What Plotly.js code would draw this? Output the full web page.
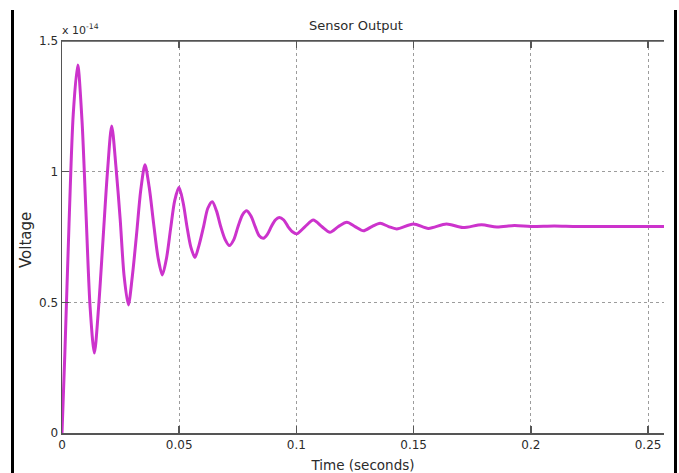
<!DOCTYPE html>
<html>
<head>
<meta charset="utf-8">
<script src="https://cdn.plot.ly/plotly-3.0.1.min.js"></script>
<style>
html,body{margin:0;padding:0;background:#fff;}
#chart{width:679px;height:473px;}
</style>
</head>
<body>
<div id="chart"></div>
<script>
// Time (seconds) and sensor voltage (x 1e-14)
const timeSec = [0, 0.0012, 0.0030, 0.0048, 0.0067, 0.0085, 0.0102, 0.0120, 0.0138, 0.0156,
  0.0175, 0.0194, 0.0212, 0.0230, 0.0248, 0.0265, 0.0283, 0.0300, 0.0318, 0.0336,
  0.0354, 0.0372, 0.0391, 0.0410, 0.0428, 0.0446, 0.0463, 0.0481, 0.0499, 0.0517,
  0.0533, 0.0550, 0.0567, 0.0585, 0.0604, 0.0622, 0.0641, 0.0659, 0.0677, 0.0696,
  0.0714, 0.0733, 0.0751, 0.0770, 0.0788, 0.0806, 0.0824, 0.0841, 0.0859, 0.0876,
  0.0893, 0.0910, 0.0927, 0.0946, 0.0964, 0.0983, 0.1001, 0.1037, 0.1072, 0.1108,
  0.1143, 0.1179, 0.1215, 0.1250, 0.1286, 0.1322, 0.1357, 0.1393, 0.1428, 0.1499,
  0.1563, 0.1640, 0.1710, 0.1790, 0.1855, 0.1930, 0.2000, 0.2100, 0.2200, 0.2568];
const voltage = [0, 0.30, 0.80, 1.22, 1.408, 1.20, 0.85, 0.48, 0.306, 0.48,
  0.74, 1.00, 1.175, 1.02, 0.82, 0.60, 0.49, 0.60, 0.76, 0.93,
  1.026, 0.94, 0.80, 0.67, 0.605, 0.67, 0.78, 0.89, 0.94, 0.88,
  0.79, 0.71, 0.672, 0.72, 0.79, 0.86, 0.885, 0.85, 0.79, 0.74,
  0.717, 0.74, 0.79, 0.835, 0.85, 0.83, 0.79, 0.755, 0.745, 0.76,
  0.79, 0.815, 0.825, 0.815, 0.79, 0.77, 0.762, 0.79, 0.815, 0.79,
  0.768, 0.79, 0.806, 0.79, 0.774, 0.79, 0.8025, 0.79, 0.781, 0.80,
  0.783, 0.80, 0.786, 0.797, 0.788, 0.794, 0.79, 0.792, 0.79, 0.79];

const xTickVals = [0, 0.05, 0.1, 0.15, 0.2, 0.25];
const xTickText = ['0', '0.05', '0.1', '0.15', '0.2', '0.25'];
const yTickVals = [0, 0.5, 1, 1.5];
const yTickText = ['0', '0.5', '1', '1.5'];

const W = 679, H = 473;
const M = {l: 62, r: 15, t: 41, b: 40};
const pw = W - M.l - M.r, ph = H - M.t - M.b;
const px = v => (v - M.l) / pw;           // pixel x -> paper x
const py = v => (H - M.b - v) / ph;       // pixel y -> paper y

const FONT = 'DejaVu Sans, Liberation Sans, Arial, sans-serif';
const TXT = '#2b2b2b';
const AX = '#555555';
const GRID = '#9c9c9c';

const trace = {
  x: timeSec, y: voltage, type: 'scatter', mode: 'lines',
  line: {color: '#cc33cc', width: 3, shape: 'spline', smoothing: 0.8},
  hoverinfo: 'skip'
};

const layout = {
  width: W, height: H,
  margin: M,
  paper_bgcolor: '#ffffff', plot_bgcolor: '#ffffff',
  showlegend: false,
  font: {family: FONT, color: TXT, size: 12},
  title: {text: 'Sensor Output', font: {family: FONT, size: 13, color: TXT},
          x: 356 / W, xref: 'container', xanchor: 'center',
          y: 1 - 25 / H, yref: 'container', yanchor: 'middle'},
  xaxis: {
    range: [0, 0.2568], tickmode: 'array', tickvals: xTickVals, ticktext: xTickText,
    showline: true, linecolor: AX, linewidth: 1.5, mirror: 'ticks',
    ticks: 'inside', ticklen: 7, tickcolor: AX, tickwidth: 1.5,
    showgrid: true, gridcolor: GRID, griddash: 'dot', gridwidth: 1,
    zeroline: false, tickfont: {family: FONT, size: 12, color: TXT},
    title: {text: 'Time (seconds)', font: {family: FONT, size: 13.5, color: TXT}}
  },
  yaxis: {
    range: [0, 1.5], tickmode: 'array', tickvals: yTickVals, ticktext: yTickText,
    showline: true, linecolor: AX, linewidth: 1.5, mirror: false,
    ticks: 'inside', ticklen: 7, tickcolor: AX, tickwidth: 1.5,
    showgrid: true, gridcolor: GRID, griddash: 'dot', gridwidth: 1,
    zeroline: false, tickfont: {family: FONT, size: 12, color: TXT}
  },
  annotations: [
    {text: 'x 10<sup>-14</sup>', xref: 'paper', yref: 'paper', x: px(60), y: py(30),
     xanchor: 'left', yanchor: 'middle', showarrow: false,
     font: {family: FONT, size: 11, color: TXT}},
    {text: 'Voltage', xref: 'paper', yref: 'paper', x: px(26), y: py(240),
     xanchor: 'center', yanchor: 'middle', textangle: -90, showarrow: false,
     font: {family: FONT, size: 15, color: TXT}}
  ],
  shapes: [
    // top axis line
    {type: 'line', xref: 'paper', yref: 'paper', x0: 0, x1: 1, y0: 1, y1: 1,
     line: {color: AX, width: 1.5}},
    // black frame bars at image edges
    {type: 'line', xref: 'paper', yref: 'paper', x0: px(12.5), x1: px(12.5), y0: py(10), y1: py(473),
     line: {color: '#000', width: 3}},
    {type: 'line', xref: 'paper', yref: 'paper', x0: px(675.5), x1: px(675.5), y0: py(10), y1: py(473),
     line: {color: '#000', width: 3}}
  ]
};

Plotly.newPlot('chart', [trace], layout, {displayModeBar: false, staticPlot: true});
</script>
</body>
</html>
